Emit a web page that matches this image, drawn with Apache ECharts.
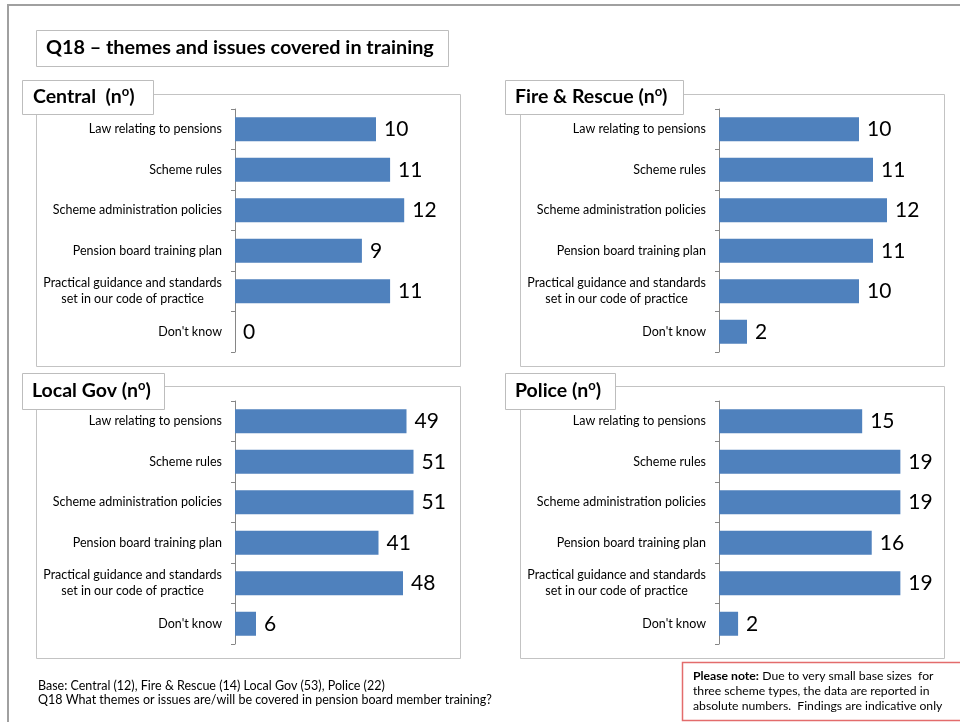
<!DOCTYPE html>
<html>
<head>
<meta charset="utf-8">
<script src="https://cdn.jsdelivr.net/npm/echarts@6/dist/echarts.min.js"></script>
<style>
html,body{margin:0;padding:0;background:#fff;}
#chart{width:960px;height:722px;}
</style>
</head>
<body>
<div id="chart"></div>
<script>
// ---- data ----
var categories = [
  'Law relating to pensions',
  'Scheme rules',
  'Scheme administration policies',
  'Pension board training plan',
  'Practical guidance and standards\nset in our code of practice',
  "Don't know"
];
var central = [10, 11, 12, 9, 11, 0];
var fireRescue = [10, 11, 12, 11, 10, 2];
var localGov = [49, 51, 51, 41, 48, 6];
var police = [15, 19, 19, 16, 19, 2];
var panelTitles = ['Central  (n', 'Fire & Rescue (n', 'Local Gov (n', 'Police (n'];
var mainTitle = 'Q18 \u2013 themes and issues covered in training';
var baseNote = 'Base: Central (12), Fire & Rescue (14) Local Gov (53), Police (22)';
var questionNote = 'Q18 What themes or issues are/will be covered in pension board member training?';
var pleaseNoteLines = ['Due to very small base sizes  for', 'three scheme types, the data are reported in', 'absolute numbers.  Findings are indicative only'];

var FONT = 'Lato, "Open Sans", sans-serif';
var chart = echarts.init(document.getElementById('chart'));

var panels = [
  {data: central,    left: 235, top: 109, width: 211.5, max: 15},
  {data: fireRescue, left: 719, top: 109, width: 210,   max: 15},
  {data: localGov,   left: 235, top: 401, width: 210,   max: 60},
  {data: police,     left: 719, top: 401, width: 210,   max: 22}
];

var grids = [], xAxes = [], yAxes = [], series = [];
panels.forEach(function (p, i) {
  grids.push({left: p.left, top: p.top, width: p.width, height: 243, containLabel: false});
  xAxes.push({type: 'value', gridIndex: i, min: 0, max: p.max, show: false});
  yAxes.push({
    type: 'category', gridIndex: i, inverse: true, data: categories,
    axisLine: {show: true, lineStyle: {color: '#868686', width: 1}},
    axisTick: {show: true, length: 4, lineStyle: {color: '#868686'}},
    splitLine: {show: false},
    axisLabel: {
      interval: 0, margin: 13, color: '#000', fontSize: 12.5, fontFamily: FONT,
      formatter: function (v) {
        return v.split('\n').map(function (l) { return '{c|' + l + '}'; }).join('\n');
      },
      rich: {c: {align: 'center', fontSize: 12.5, lineHeight: 16, fontFamily: FONT, color: '#000'}}
    }
  });
  series.push({
    type: 'bar', xAxisIndex: i, yAxisIndex: i, data: p.data, barWidth: 24,
    itemStyle: {color: '#4F81BD'},
    label: {show: true, position: 'right', distance: 8, fontSize: 21, fontFamily: FONT, color: '#000'},
    silent: true, animation: false
  });
});

function panelBox(x, y, w, h) {
  return {type: 'rect', z: -10, shape: {x: x + 0.5, y: y + 0.5, width: w, height: h},
    style: {fill: '#fff', stroke: '#c3c3c3', lineWidth: 1}};
}
function titleBox(x, y, w, h) {
  return {type: 'rect', z: -5, shape: {x: x + 0.5, y: y + 0.5, width: w, height: h},
    style: {fill: '#fff', stroke: '#bdbdbd', lineWidth: 1}};
}
function panelTitle(x, y, t) {
  return {type: 'text', z: -4, x: x, y: y,
    style: {text: '{b|' + t + '}{s|o}{b|)}', textVerticalAlign: 'middle',
      rich: {
        b: {fontSize: 19.5, fontWeight: 'bold', fontFamily: FONT, fill: '#000', lineHeight: 24},
        s: {fontSize: 13, fontWeight: 'bold', fontFamily: FONT, fill: '#000', verticalAlign: 'top', lineHeight: 13}
      }}};
}

var graphics = [
  {type: 'polyline', z: -20, shape: {points: [[8, 730], [8, 5], [970, 5]]}, style: {stroke: '#a0a0a0', lineWidth: 2, fill: null}},
  {type: 'rect', z: -5, shape: {x: 36.5, y: 30.5, width: 412, height: 36}, style: {fill: '#fff', stroke: '#bdbdbd', lineWidth: 1}},
  {type: 'text', z: -4, x: 46, y: 48, style: {text: mainTitle, fontSize: 19.8, fontWeight: 'bold', fontFamily: FONT, fill: '#000', textVerticalAlign: 'middle'}},
  panelBox(36, 94, 424, 272),
  panelBox(520, 94, 424, 272),
  panelBox(36, 386, 424, 272),
  panelBox(520, 386, 424, 272),
  titleBox(22, 80, 131, 34),
  titleBox(505, 80, 178, 34),
  titleBox(22, 373, 142, 36),
  titleBox(505, 373, 110, 36),
  panelTitle(33, 97, panelTitles[0]),
  panelTitle(515, 97, panelTitles[1]),
  panelTitle(32, 391, panelTitles[2]),
  panelTitle(515, 391, panelTitles[3]),
  {type: 'text', x: 38, y: 686, style: {text: baseNote, fontSize: 12.5, fontFamily: FONT, fill: '#000', textVerticalAlign: 'middle'}},
  {type: 'text', x: 38, y: 700, style: {text: questionNote, fontSize: 12.5, fontFamily: FONT, fill: '#000', textVerticalAlign: 'middle'}},
  {type: 'rect', z: -5, shape: {x: 682.5, y: 662.5, width: 290, height: 58}, style: {fill: '#fff', stroke: '#e36c6c', lineWidth: 1.5}},
  {type: 'text', x: 693, y: 669, style: {
    text: '{b|Please note:} {n|' + pleaseNoteLines[0] + '}\n{n|' + pleaseNoteLines[1] + '}\n{n|' + pleaseNoteLines[2] + '}',
    rich: {
      b: {fontSize: 12.2, fontWeight: 'bold', fontFamily: FONT, fill: '#000', lineHeight: 15},
      n: {fontSize: 12.2, fontFamily: FONT, fill: '#000', lineHeight: 15}
    }}}
];

chart.setOption({
  animation: false,
  backgroundColor: '#fff',
  grid: grids,
  xAxis: xAxes,
  yAxis: yAxes,
  series: series,
  graphic: {elements: graphics}
});
</script>
</body>
</html>
